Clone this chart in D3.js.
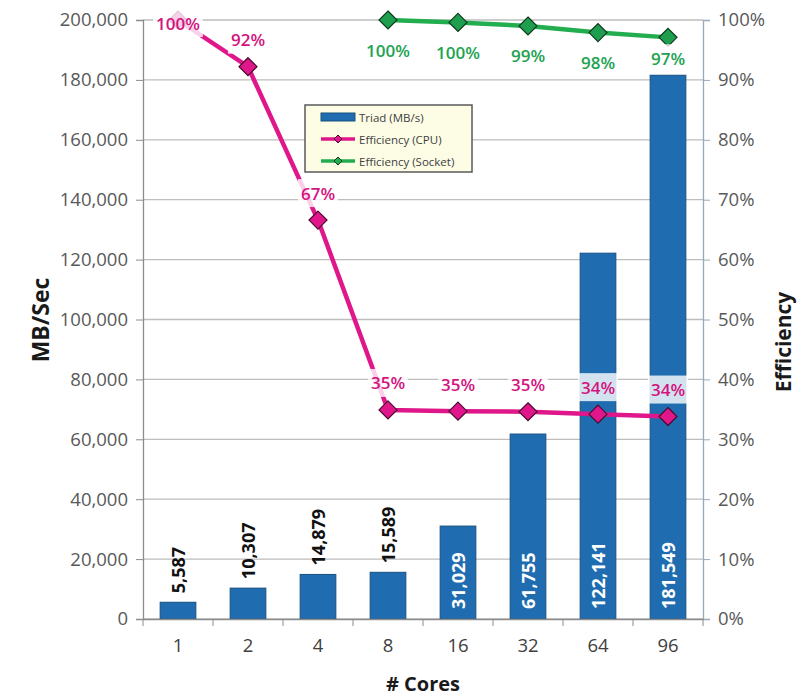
<!DOCTYPE html>
<html><head><meta charset="utf-8">
<script src="https://cdn.jsdelivr.net/npm/d3@7"></script>
<style>
body{margin:0;background:#fff;}
text{font-family:"Open Sans",sans-serif;}
</style></head>
<body><svg id="chart" width="798" height="697"></svg>
<script>
const cores = ["1","2","4","8","16","32","64","96"];
const triad = [5587,10307,14879,15589,31029,61755,122141,181549];
const effCPU = [1.00,0.922,0.666,0.349,0.347,0.346,0.342,0.338];
const socketCores = ["8","16","32","64","96"];
const effSocket = [1.00,0.996,0.99,0.979,0.971];
const leftTicks = [0,20000,40000,60000,80000,100000,120000,140000,160000,180000,200000];
const rightTicks = [0,0.1,0.2,0.3,0.4,0.5,0.6,0.7,0.8,0.9,1.0];
const legendItems = ["Triad (MB/s)","Efficiency (CPU)","Efficiency (Socket)"];

const svg = d3.select("#chart");
const L=143, R=703, T=20, B=619;
const x = d3.scaleBand().domain(cores).range([L,R]).paddingInner(0.49).paddingOuter(0.245);
const yL = d3.scaleLinear().domain([0,200000]).range([B,T]);
const yR = d3.scaleLinear().domain([0,1]).range([B,T]);
const cx = c => x(c)+x.bandwidth()/2;
const triadOf = c => triad[cores.indexOf(c)];

const blue="#1f6db0", magenta="#e0178a", green="#22ad4f";

// gridlines
svg.append("g").selectAll("line").data(leftTicks).join("line")
  .attr("x1",L).attr("x2",R).attr("y1",d=>yL(d)).attr("y2",d=>yL(d))
  .attr("stroke","#bdbdbd").attr("stroke-width",1.3);

// left axis
const axL = svg.append("g").attr("transform",`translate(${L},0)`)
  .call(d3.axisLeft(yL).tickValues(leftTicks).tickFormat(d3.format(",")).tickSize(7).tickPadding(8));
axL.select(".domain").attr("stroke","#8c8c8c").attr("stroke-width",1.3);
axL.selectAll(".tick line").attr("stroke","#8c8c8c");
axL.selectAll("text").attr("font-size",18.5).attr("fill","#595959").attr("font-family","Open Sans");

// right axis
const axR = svg.append("g").attr("transform",`translate(${R},0)`)
  .call(d3.axisRight(yR).tickValues(rightTicks).tickFormat(d3.format(".0%")).tickSize(7).tickPadding(8));
axR.select(".domain").attr("stroke","#98a8bb").attr("stroke-width",1.3);
axR.selectAll(".tick line").attr("stroke","#98a8bb");
axR.selectAll("text").attr("font-size",18.5).attr("fill","#595959").attr("font-family","Open Sans");

// bars
svg.append("g").selectAll("rect").data(cores).join("rect")
  .attr("x",d=>x(d)).attr("width",x.bandwidth())
  .attr("y",(d,i)=>yL(triad[i])).attr("height",(d,i)=>B-yL(triad[i]))
  .attr("fill",blue).attr("stroke","#17507f").attr("stroke-width",1);

// x axis
const axB = svg.append("g").attr("transform",`translate(0,${B})`)
  .call(d3.axisBottom(x).tickSize(0).tickPadding(20));
axB.select(".domain").attr("stroke","#8c8c8c").attr("stroke-width",1.3);
axB.selectAll("text").attr("font-size",18.5).attr("fill","#404040").attr("font-family","Open Sans");
const bounds = d3.range(cores.length+1).map(i=>L+i*x.step());
svg.append("g").selectAll("line").data(bounds).join("line")
  .attr("x1",d=>d).attr("x2",d=>d).attr("y1",B).attr("y2",B+7).attr("stroke","#8c8c8c");

// bar value labels
svg.append("g").selectAll("text").data(cores).join("text")
  .attr("transform",(d,i)=>{
    const inside = B-yL(triad[i]) > 75;
    const yy = inside ? B-10 : yL(triad[i])-9;
    return `translate(${cx(d)},${yy}) rotate(-90)`;})
  .attr("text-anchor","start").attr("dominant-baseline","central")
  .attr("font-size",18).attr("font-weight",700)
  .attr("fill",(d,i)=> (B-yL(triad[i])>75) ? "#ffffff" : "#111")
  .text((d,i)=>d3.format(",")(triad[i]));

// diamond path
const diamond = "M0,-9L9,0L0,9L-9,0Z";

// CPU line
const lineCPU = d3.line().x((d,i)=>cx(cores[i])).y(d=>yR(d));
svg.append("path").datum(effCPU).attr("d",lineCPU)
  .attr("fill","none").attr("stroke",magenta).attr("stroke-width",4.5).attr("stroke-linejoin","round");
svg.append("g").selectAll("path").data(effCPU).join("path")
  .attr("d",diamond).attr("transform",(d,i)=>`translate(${cx(cores[i])},${yR(d)})`)
  .attr("fill",magenta).attr("stroke","#4a0a30").attr("stroke-width",1.2);

// Socket line
const lineS = d3.line().x((d,i)=>cx(socketCores[i])).y(d=>yR(d));
svg.append("path").datum(effSocket).attr("d",lineS)
  .attr("fill","none").attr("stroke",green).attr("stroke-width",4.5).attr("stroke-linejoin","round");
svg.append("g").selectAll("path").data(effSocket).join("path")
  .attr("d",diamond).attr("transform",(d,i)=>`translate(${cx(socketCores[i])},${yR(d)})`)
  .attr("fill","#1f9e4f").attr("stroke","#0c3a1d").attr("stroke-width",1.2);

// labels with boxes
function addLabels(vals, cats, color, dy, minY, avoidBar){
  const g = svg.append("g");
  vals.forEach((v,i)=>{
    let yy = yR(v)+dy; if (yy<minY) yy=minY;
    if (avoidBar) yy = Math.min(yy, yL(triadOf(cats[i]))-17);
    const lg = g.append("g").attr("transform",`translate(${cx(cats[i])},${yy})`);
    const rect = lg.append("rect").attr("fill","#fff").attr("fill-opacity",0.8);
    const t = lg.append("text").attr("text-anchor","middle").attr("dominant-baseline","central")
      .attr("font-size",17).attr("font-weight",600).attr("fill",color).text(d3.format(".0%")(v));
    const bb = t.node().getBBox();
    rect.attr("x",bb.x-3).attr("y",-14).attr("width",bb.width+6).attr("height",28);
  });
}
addLabels(effCPU, cores, "#d4137f", -27, 23, false);
addLabels(effSocket, socketCores, "#20a350", 30, 0, true);

// legend
const lg = svg.append("g").attr("transform","translate(305,105)");
lg.append("rect").attr("width",167).attr("height",67).attr("fill","#fdfde6").attr("stroke","#5a5a5a").attr("stroke-width",1.5);
const rows=[12,34,56];
lg.append("rect").attr("x",16).attr("y",rows[0]-4).attr("width",34).attr("height",8).attr("fill",blue).attr("stroke","#17507f");
[[magenta,"#4a0a30"],[green,"#0c3a1d"]].forEach((c,k)=>{
  lg.append("line").attr("x1",16).attr("x2",50).attr("y1",rows[k+1]).attr("y2",rows[k+1]).attr("stroke",c[0]).attr("stroke-width",3.5);
  lg.append("path").attr("d","M0,-4L4,0L0,4L-4,0Z").attr("transform",`translate(33,${rows[k+1]})`).attr("fill",c[0]).attr("stroke",c[1]);
});
lg.selectAll("text.l").data(legendItems).join("text").attr("class","l")
  .attr("x",54).attr("y",(d,i)=>rows[i]).attr("dominant-baseline","central")
  .attr("font-size",11.5).attr("fill","#404040").text(d=>d);

// titles
svg.append("text").attr("transform",`translate(40,320) rotate(-90)`).attr("text-anchor","middle")
  .attr("dominant-baseline","central").attr("font-size",23).attr("font-weight",700).attr("fill","#1a1a1a").text("MB/Sec");
svg.append("text").attr("transform",`translate(783,342) rotate(-90)`).attr("text-anchor","middle")
  .attr("dominant-baseline","central").attr("font-size",21).attr("font-weight",700).attr("fill","#1a1a1a").text("Efficiency");
svg.append("text").attr("x",(L+R)/2).attr("y",683).attr("text-anchor","middle")
  .attr("dominant-baseline","central").attr("font-size",20).attr("font-weight",700).attr("fill","#1a1a1a").text("# Cores");
</script></body></html>
